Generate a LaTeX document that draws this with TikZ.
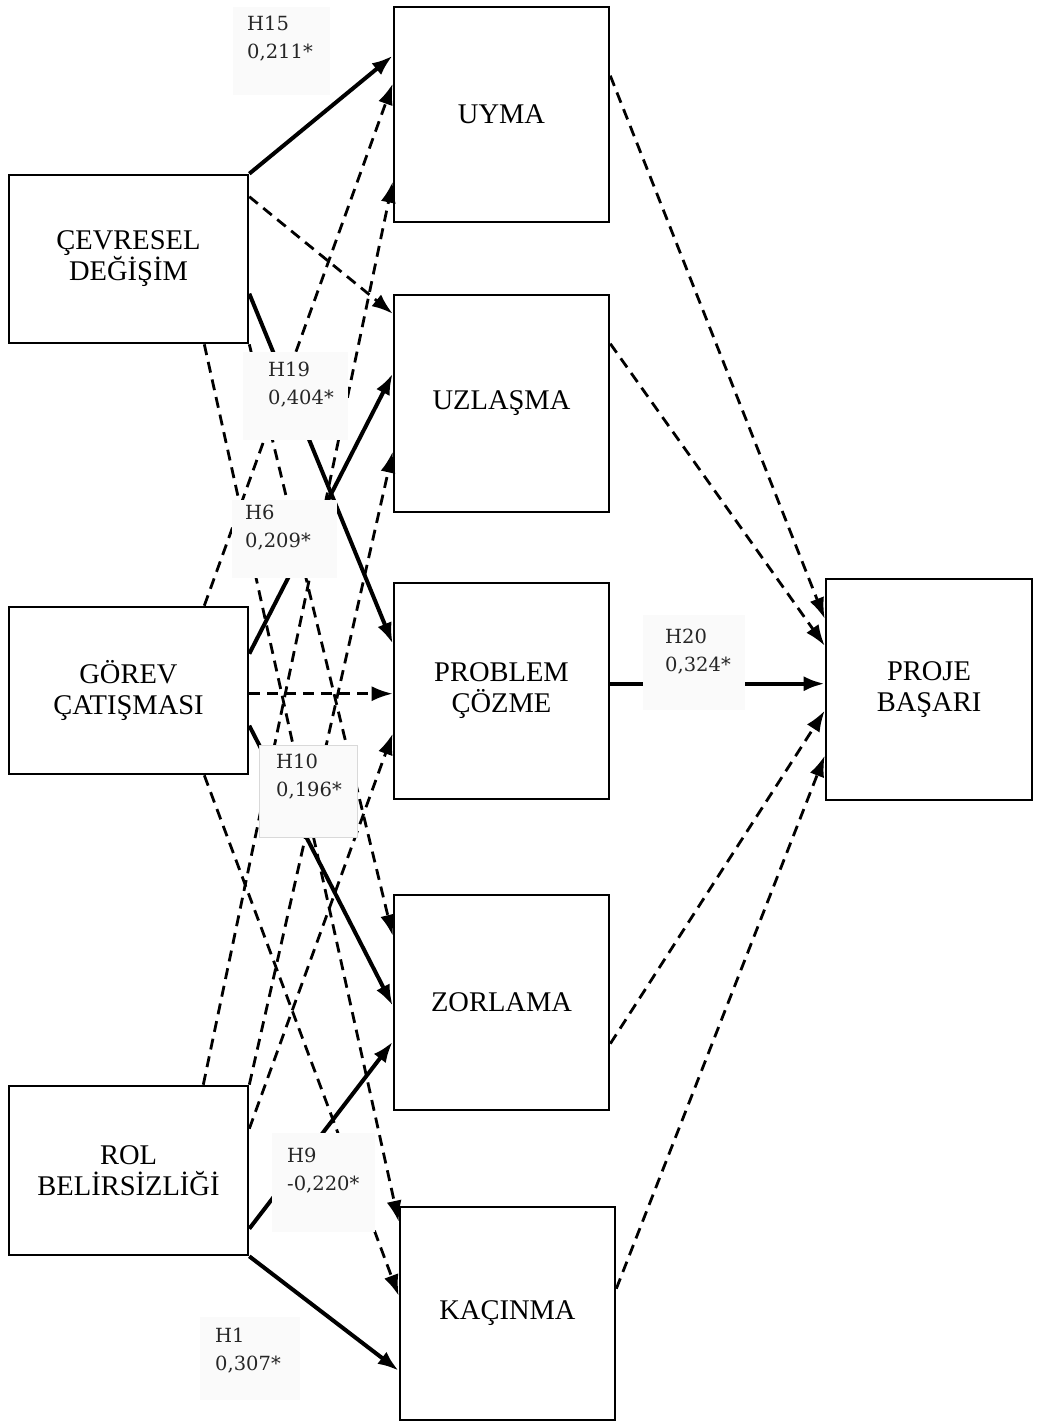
\documentclass[tikz,border=0pt]{standalone}
\usepackage{fontspec}
\setmainfont{Liberation Serif}
\newfontfamily\lblfont{DejaVu Serif}
\usetikzlibrary{arrows.meta,calc}
\tikzset{
  box/.style={draw, line width=2.6pt, inner sep=0pt, align=center,
    font=\fontsize{28.5}{31}\selectfont},
  tip/.style={-{Latex[length=21pt,width=15pt]}},
  solidarrow/.style={tip, line width=4pt},
  dasharrow/.style={tip, line width=2.8pt, dash pattern=on 11pt off 7pt},
  lblbox/.style={fill=black!2, draw=none, inner sep=0pt, anchor=north west},
  lbltxt/.style={inner sep=0pt, anchor=north west, align=left, text=black!85,
    font=\lblfont\fontsize{19.5}{28}\selectfont},
}
\begin{document}
\begin{tikzpicture}[x=1pt,y=-1pt]
\useasboundingbox (0,0) rectangle (1038,1423);
\fill[white] (0,0) rectangle (1038,1423);

% independent variables
\node[box, minimum width=239pt, minimum height=168pt] (cd) at (128.5,259) {ÇEVRESEL\\DEĞİŞİM};
\node[box, minimum width=239pt, minimum height=167pt] (gc) at (128.5,690.5) {GÖREV\\ÇATIŞMASI};
\node[box, minimum width=239pt, minimum height=169pt] (rb) at (128.5,1170.5) {ROL\\BELİRSİZLİĞİ};
% conflict handling styles
\node[box, minimum width=215pt, minimum height=215pt] (uy) at (501.5,114.5) {UYMA};
\node[box, minimum width=215pt, minimum height=217pt] (uz) at (501.5,403.5) {UZLAŞMA};
\node[box, minimum width=215pt, minimum height=216pt] (pc) at (501.5,691) {PROBLEM\\ÇÖZME};
\node[box, minimum width=215pt, minimum height=215pt] (zo) at (501.5,1002.5) {ZORLAMA};
\node[box, minimum width=215pt, minimum height=213pt] (ka) at (507.5,1313.5) {KAÇINMA};
% outcome
\node[box, minimum width=206pt, minimum height=221pt] (pb) at (929,689.5) {PROJE\\BAŞARI};

% paths from ÇEVRESEL DEĞİŞİM
\draw[solidarrow] (cd.north east) -- ([yshift=-50pt]uy.north west);
\draw[dasharrow] ([yshift=-23pt]cd.north east) -- ([yshift=-20pt]uz.north west);
\draw[solidarrow] ([yshift=-120pt]cd.north east) -- ([yshift=-62pt]pc.north west);
\draw[dasharrow] (cd.south east) -- ([yshift=-42pt]zo.north west);
\draw[dasharrow] ([xshift=-45pt]cd.south east) -- ([yshift=-16pt]ka.north west);

% paths from GÖREV ÇATIŞMASI
\draw[dasharrow] ([xshift=-45pt]gc.north east) -- ([yshift=-78pt]uy.north west);
\draw[solidarrow] ([yshift=-48pt]gc.north east) -- ([yshift=-80pt]uz.north west);
\draw[dasharrow] ([yshift=-88pt]gc.north east) -- ([yshift=-112pt]pc.north west);
\draw[solidarrow] ([yshift=-120pt]gc.north east) -- ([yshift=-112pt]zo.north west);
\draw[dasharrow] ([xshift=-45pt]gc.south east) -- ([yshift=-90pt]ka.north west);

% paths from ROL BELİRSİZLİĞİ
\draw[dasharrow] ([xshift=-46pt]rb.north east) -- ([yshift=-176pt]uy.north west);
\draw[dasharrow] (rb.north east) -- ([yshift=-158pt]uz.north west);
\draw[dasharrow] ([yshift=-44pt]rb.north east) -- ([yshift=-152pt]pc.north west);
\draw[solidarrow] ([yshift=-144pt]rb.north east) -- ([yshift=-148pt]zo.north west);
\draw[solidarrow] (rb.south east) -- ([yshift=-165pt]ka.north west);

% paths to PROJE BAŞARI
\draw[dasharrow] ([yshift=-70pt]uy.north east) -- ([yshift=-41pt]pb.north west);
\draw[dasharrow] ([yshift=-50pt]uz.north east) -- ([yshift=-68pt]pb.north west);
\draw[solidarrow] ([yshift=-102pt]pc.north east) -- ([yshift=-106pt]pb.north west);
\draw[dasharrow] ([yshift=-150pt]zo.north east) -- ([yshift=-133pt]pb.north west);
\draw[dasharrow] ([yshift=-83pt]ka.north east) -- ([yshift=-178pt]pb.north west);

% coefficient labels
\node[lblbox, minimum width=97pt, minimum height=88pt] (b15) at (233,7) {};
\node[lbltxt] (t15) at (247,16) {H15\\0,211*};
\node[lblbox, minimum width=105pt, minimum height=88pt] (b19) at (243,352) {};
\node[lbltxt] (t19) at (268,362) {H19\\0,404*};
\node[lblbox, minimum width=105pt, minimum height=78pt] (b6) at (232,500) {};
\node[lbltxt] (t6) at (245,505) {H6\\0,209*};
\node[lblbox, draw=black!15, line width=0.6pt, minimum width=98pt, minimum height=92pt] (b10) at (259,745) {};
\node[lbltxt] (t10) at (276,754) {H10\\0,196*};
\node[lblbox, minimum width=103pt, minimum height=99pt] (b9) at (272,1133) {};
\node[lbltxt] (t9) at (287,1148) {H9\\-0,220*};
\node[lblbox, minimum width=100pt, minimum height=83pt] (b1) at (200,1317) {};
\node[lbltxt] (t1) at (215,1328) {H1\\0,307*};
\node[lblbox, minimum width=102pt, minimum height=95pt] (b20) at (643,615) {};
\node[lbltxt] (t20) at (665,629) {H20\\0,324*};
\end{tikzpicture}
\end{document}
